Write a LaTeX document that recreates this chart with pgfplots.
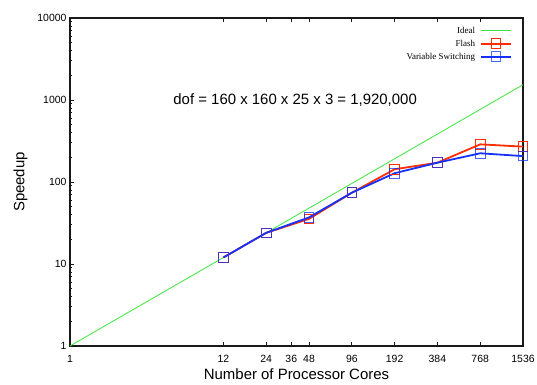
\documentclass[border=0pt]{standalone}
\usepackage{fontspec}
\setmainfont{Liberation Sans}
\newfontfamily\seriffont{Liberation Serif}
\usepackage{pgfplots}
\pgfplotsset{compat=1.18}
\definecolor{idealc}{RGB}{60,230,60}
\definecolor{flashc}{RGB}{255,45,0}
\definecolor{vsc}{RGB}{20,50,255}
\begin{document}
\begin{tikzpicture}
\useasboundingbox (-70bp,-39bp) rectangle (467bp,346bp);
\begin{axis}[
  at={(0,0)}, anchor=south west,
  scale only axis, width=453bp, height=328bp,
  xmode=log, ymode=log,
  xmin=1, xmax=1536, ymin=1, ymax=10000,
  xtick={1,12,24,36,48,96,192,384,768,1536},
  xticklabels={1,12,24,36,48,96,192,384,768,1536},
  ytick={1,10,100,1000,10000},
  yticklabels={1,10,100,1000,10000},
  minor ytick={2,3,4,5,6,7,8,9,20,30,40,50,60,70,80,90,200,300,400,500,600,700,800,900,2000,3000,4000,5000,6000,7000,8000,9000},
  xtick pos=both, ytick pos=left,
  tick align=inside,
  major tick length=4.5bp, minor tick length=2.5bp,
  axis line style={line width=1.4bp, black!90},
  every tick/.style={black!90, line width=0.8bp},
  /pgf/number format/assume math mode=true,
  tick label style={font=\fontsize{10.5}{12}\selectfont},
  xticklabel style={yshift=-6bp},
  xlabel={Number of Processor Cores},
  ylabel={Speedup},
  label style={font=\fontsize{15}{17}\selectfont},
  xlabel style={yshift=1bp},
  ylabel style={yshift=3bp},
  legend style={draw=none, fill=none, at={(1,1)}, anchor=north east, xshift=-8bp, yshift=-4bp,
    font=\seriffont\fontsize{9}{10}\selectfont,
    nodes={inner sep=2bp, text height=7bp, text depth=2bp},
    /tikz/every odd column/.append style={column sep=3bp}},
  legend cell align=right,
  legend plot pos=right,
  legend image code/.code={\draw[mark repeat=2,mark phase=2,#1] plot coordinates {(0bp,0bp)(15bp,0bp)(30bp,0bp)};},
]
\addplot[color=idealc, line width=0.8bp, no marks] coordinates {(1,1) (1536,1536)};
\addlegendentry{Ideal}
\addplot[color=flashc, line width=1.8bp, mark=square, mark size=4.8bp, mark options={line width=0.9bp, solid}] coordinates {
(12,12) (24,24) (48,35.5) (96,74) (192,143) (384,172) (768,288) (1536,270)};
\addlegendentry{Flash}
\addplot[color=vsc, line width=1.8bp, mark=square, mark size=4.8bp, mark options={line width=0.9bp, solid, opacity=0.75}] coordinates {
(12,12) (24,24) (48,37) (96,74) (192,128) (384,172) (768,224) (1536,207)};
\addlegendentry{Variable Switching}
\node[font=\fontsize{15}{17}\selectfont] at (rel axis cs:0.497,0.75) {dof = 160 x 160 x 25 x 3 = 1,920,000};
\end{axis}
\end{tikzpicture}
\end{document}
